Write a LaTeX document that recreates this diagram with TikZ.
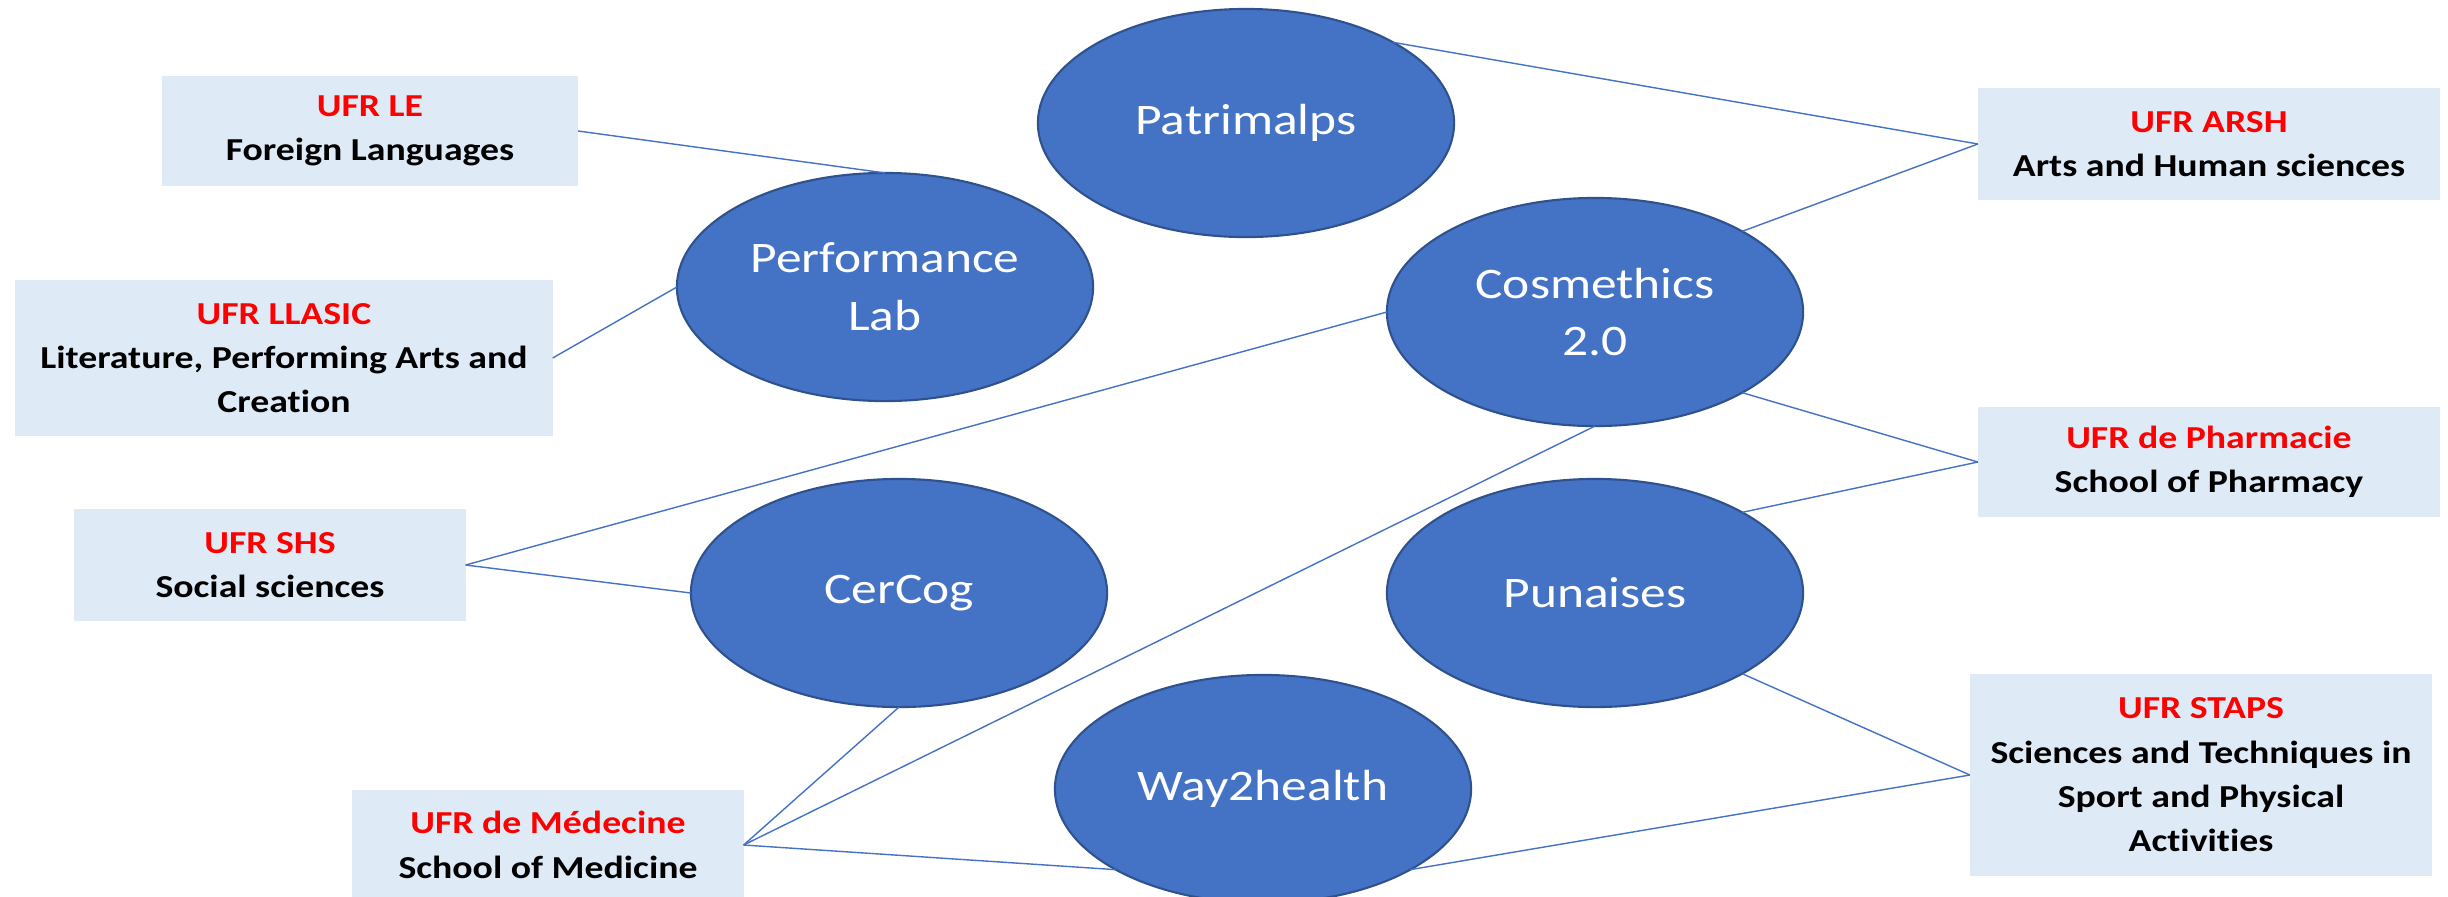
\documentclass[tikz,border=0pt]{standalone}
\usepackage{fontspec}
\setmainfont{Carlito}[FakeStretch=1.18, Ligatures={NoCommon}]
\usetikzlibrary{shapes.geometric}

\definecolor{projblue}{HTML}{4472C4}
\definecolor{projrim}{HTML}{2F528F}
\definecolor{ufrbg}{HTML}{DEEBF7}
\definecolor{ufrred}{HTML}{FF0000}

\tikzset{
	projet/.style={ellipse, fill=projblue, draw=projrim, line width=0.6pt,
		minimum width=4.16cm, minimum height=2.28cm, inner sep=0pt, outer sep=0pt,
		text=white, align=center, font=\fontsize{12.4}{16.4}\selectfont},
	ufrbox/.style={fill=ufrbg, inner sep=0pt, outer sep=0pt, align=center,
		font=\fontsize{9.1}{12.6}\selectfont\bfseries},
	lien/.style={draw=projblue, line width=0.4pt}
}

\newcommand{\ufr}[2]{\textcolor{ufrred}{#1}\\#2}

\begin{document}
\begin{tikzpicture}[x=0.01cm, y=-0.01cm]
\useasboundingbox (0,0) rectangle (2448,896);

\pgfmathsetmacro{\colL}{885}
\pgfmathsetmacro{\colR}{1595}
\pgfmathsetmacro{\boxR}{2209}

% projets
\node[projet] (patrimalps) at (1246,123) {Patrimalps};
\node[projet] (perflab) at (\colL,287) {Performance\\Lab};
\node[projet] (cosmethics) at (\colR,312) {Cosmethics\\2.0};
\node[projet] (cercog) at (899,593) {CerCog};
\node[projet] (punaises) at (\colR,593) {Punaises};
\node[projet] (way2health) at (1263,789) {Way2health};

% UFR
\node[ufrbox, minimum width=4.16cm, minimum height=1.10cm] (le) at (370,131) {\ufr{UFR LE}{Foreign Languages}};
\node[ufrbox, minimum width=5.37cm, minimum height=1.56cm] (llasic) at (284,358) {\ufr{UFR LLASIC}{Literature, Performing Arts and\\Creation}};
\node[ufrbox, minimum width=3.91cm, minimum height=1.11cm] (shs) at (270,565) {\ufr{UFR SHS}{Social sciences}};
\node[ufrbox, minimum width=3.91cm, minimum height=1.10cm] (medecine) at (548,845) {\ufr{UFR de Médecine}{School of Medicine}};
\node[ufrbox, minimum width=4.62cm, minimum height=1.11cm] (arsh) at (\boxR,144) {\ufr{UFR ARSH}{Arts and Human sciences}};
\node[ufrbox, minimum width=4.62cm, minimum height=1.10cm] (pharmacie) at (\boxR,462) {\ufr{UFR de Pharmacie}{School of Pharmacy}};
\node[ufrbox, minimum width=4.62cm, minimum height=2.01cm] (staps) at (2201,775) {\ufr{UFR STAPS}{Sciences and Techniques in\\Sport and Physical\\Activities}};

\draw[lien] (le.east) -- (perflab.north);
\draw[lien] (llasic.east) -- (perflab.west);
\draw[lien] (patrimalps.north east) -- (arsh.west);
\draw[lien] (cosmethics.north east) -- (arsh.west);
\draw[lien] (shs.east) -- (cosmethics.west);
\draw[lien] (shs.east) -- (cercog.west);
\draw[lien] (medecine.east) -- (cercog.south);
\draw[lien] (medecine.east) -- (cosmethics.south);
\draw[lien] (medecine.east) -- (way2health.south west);
\draw[lien] (way2health.south east) -- (staps.west);
\draw[lien] (cosmethics.south east) -- (pharmacie.west);
\draw[lien] (punaises.north east) -- (pharmacie.west);
\draw[lien] (punaises.south east) -- (staps.west);
\end{tikzpicture}
\end{document}
